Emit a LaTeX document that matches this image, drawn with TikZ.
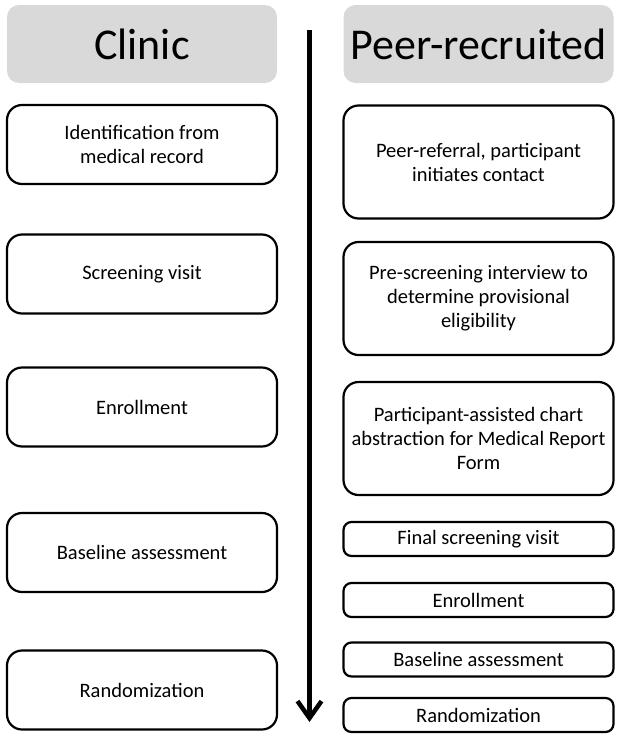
\documentclass[tikz,border=0pt]{standalone}
\usepackage{fontspec}
\setmainfont{Carlito}
\usetikzlibrary{arrows.meta}
\definecolor{headgray}{RGB}{217,217,217}
\tikzset{
  header/.style={fill=headgray, rounded corners=12pt, minimum width=270pt, minimum height=78pt,
    font=\fontsize{44}{50}\selectfont},
  stage/.style={draw, line width=2.2pt, rounded corners=15pt, minimum width=270pt, minimum height=79pt,
    align=center, font=\fontsize{20.5}{24}\selectfont},
  tallstage/.style={stage, minimum height=113pt},
  smallstage/.style={stage, rounded corners=8pt, minimum height=34pt},
}
\begin{document}
\begin{tikzpicture}[x=1pt, y=-1pt]
    \useasboundingbox (0,0) rectangle (643,739);
    \node[header] (clinic) at (142,44) {Clinic};
    \node[header] (peer) at (478.5,44) {Peer-recruited};
    \node[stage] (c1) at (142,144.5) {Identification from\\medical record};
    \node[stage] (c2) at (142,274) {Screening visit};
    \node[stage] (c3) at (142,407) {Enrollment};
    \node[stage] (c4) at (142,552.5) {Baseline assessment};
    \node[stage] (c5) at (142,690) {Randomization};
    \node[tallstage] (p1) at (478.5,162) {Peer-referral, participant\\initiates contact};
    \node[tallstage] (p2) at (478.5,298.5) {Pre-screening interview to\\determine provisional\\eligibility};
    \node[tallstage] (p3) at (478.5,438.5) {Participant-assisted chart\\abstraction for Medical Report\\Form};
    \node[smallstage] (p4) at (478.5,539) {Final screening visit};
    \node[smallstage] (p5) at (478.5,600) {Enrollment};
    \node[smallstage] (p6) at (478.5,659.5) {Baseline assessment};
    \node[smallstage] (p7) at (478.5,715) {Randomization};
    \coordinate (top) at (309.5,30);
    \coordinate (bottom) at (309.5,722);
    \draw[line width=4.5pt, -{Straight Barb[length=17pt,width=24pt]}] (top) -- (bottom);
\end{tikzpicture}
\end{document}
